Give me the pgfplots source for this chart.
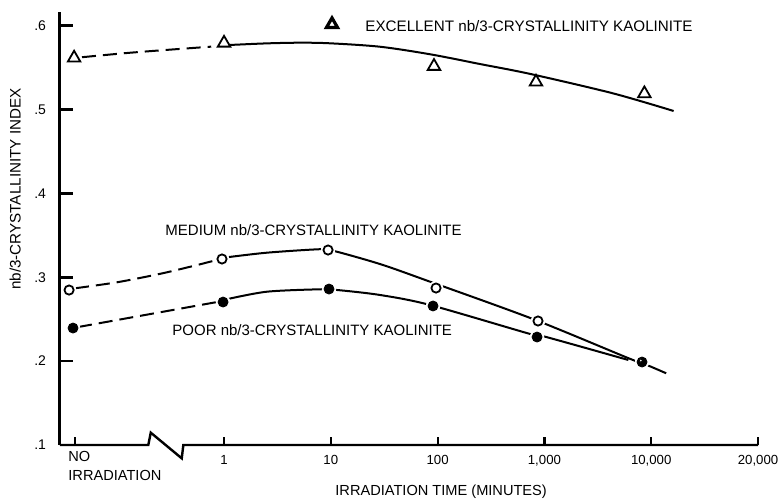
\documentclass[border=0pt]{standalone}
\usepackage{pgfplots}
\pgfplotsset{compat=1.18}
\usepackage{fontspec}
\setmainfont{Liberation Sans}
\begin{document}
\begin{tikzpicture}
\begin{axis}[
  at={(0pt,0pt)}, anchor=south west,
  scale only axis, width=349pt, height=216.5pt,
  xmin=-1.536, xmax=5, ymin=0.1, ymax=0.6161,
  axis lines=left, axis line style={-, draw=white, line width=0.2pt},
  clip=false,
  major tick length=0pt,
  xtick={-1.395,0,1,2,3,4,5},
  xticklabels={,1,10,100,{1,000},{10,000},{20,000}},
  ytick={0.1,0.2,0.3,0.4,0.5,0.6},
  yticklabels={.1,.2,.3,.4,.5,.6},
  x tick label style={font=\fontsize{6.6}{8}\selectfont, yshift=-1.5pt},
  y tick label style={font=\fontsize{7}{8}\selectfont, xshift=-3.5pt},
  /pgf/number format/assume math mode=true,
]
% axes lines
\draw[black, line width=1.5pt] (rel axis cs:0,0) -- (rel axis cs:0,1);
\draw[black, line width=1.2pt, line join=miter] (axis cs:-1.536,0.1) -- (axis cs:-0.709,0.1) -- (axis cs:-0.686,0.1147) -- (axis cs:-0.396,0.0841) -- (axis cs:-0.381,0.1) -- (axis cs:5,0.1);
% ticks as short segments
\addplot[black, line width=1.3pt, forget plot] coordinates {(-1.536,0.2) (-1.416,0.2)};
\addplot[black, line width=1.3pt, forget plot] coordinates {(-1.536,0.3) (-1.416,0.3)};
\addplot[black, line width=1.3pt, forget plot] coordinates {(-1.536,0.4) (-1.416,0.4)};
\addplot[black, line width=1.3pt, forget plot] coordinates {(-1.536,0.5) (-1.416,0.5)};
\addplot[black, line width=1.3pt, forget plot] coordinates {(-1.536,0.6) (-1.416,0.6)};
\addplot[black, line width=1.1pt, forget plot] coordinates {(-1.395,0.1) (-1.395,0.1095)};
\addplot[black, line width=1.1pt, forget plot] coordinates {(0,0.1) (0,0.1095)};
\addplot[black, line width=1.1pt, forget plot] coordinates {(1,0.1) (1,0.1095)};
\addplot[black, line width=1.1pt, forget plot] coordinates {(2,0.1) (2,0.1095)};
\addplot[black, line width=1.1pt, forget plot] coordinates {(3,0.1) (3,0.1095)};
\addplot[black, line width=1.1pt, forget plot] coordinates {(4,0.1) (4,0.1095)};
\addplot[black, line width=1.1pt, forget plot] coordinates {(5,0.1) (5,0.1095)};

% Excellent curve
\addplot[black, line width=1pt, dash pattern=on 7pt off 3.5pt, smooth] coordinates {
(-1.33,0.5622) (-0.93,0.5670) (-0.55,0.5708) (-0.12,0.5748) };
\addplot[black, line width=1pt, smooth] coordinates {
(0.056,0.5768) (0.40,0.5787) (0.71,0.5795) (0.99,0.5788) (1.46,0.5747) (1.93,0.5657) (2.40,0.5540) (2.87,0.5422) (3.64,0.5192) (4.21,0.4981) };

% Medium curve
\addplot[black, line width=1pt, dash pattern=on 7pt off 3.5pt, smooth] coordinates {
(-1.395,0.2868) (-1.0,0.2940) (-0.6,0.3040) (-0.3,0.3130) (-0.068,0.3205) };
\addplot[black, line width=1pt, smooth, tension=0.5] coordinates {
(0.025,0.3237) (0.40,0.3292) (0.87,0.3332) (1.0,0.3322) (1.46,0.3157) (1.93,0.2946) (2.90,0.2498) (3.79,0.2033) (3.96,0.1953) (4.14,0.1855) };

% Poor curve
\addplot[black, line width=1pt, dash pattern=on 7pt off 3.5pt] coordinates {
(-1.367,0.2406) (-0.066,0.2704) };
\addplot[black, line width=1pt, smooth, tension=0.5] coordinates {
(0.025,0.2737) (0.40,0.2827) (0.90,0.2856) (1.055,0.2848) (1.461,0.2788) (1.929,0.2669) (2.881,0.2318) (3.006,0.2291) (3.786,0.2013) };

% white halos
\addplot[only marks, mark=*, mark size=3.4pt, white, mark options={draw=none, fill=white}] coordinates {
(-1.451,0.2847) (-0.019,0.3217) (0.974,0.3324) (1.985,0.2871) (2.940,0.2478) (3.914,0.1989)
(-1.414,0.2394) (-0.009,0.2704) (0.983,0.2859) (1.957,0.2657) (2.931,0.2287) };

% Excellent marks
\addplot[only marks, mark=triangle, mark size=3.6pt, mark options={black, line width=0.9pt, fill=white}] coordinates {
(-1.404,0.5613) (0,0.5791) (1.966,0.5514) (2.921,0.5327) (3.936,0.5188) };
\addplot[only marks, mark=triangle, mark size=3.2pt, mark options={black, line width=1.6pt, fill=white}] coordinates {
(1.011,0.6014) };

% Medium marks
\addplot[only marks, mark=o, mark size=2.3pt, mark options={black, line width=0.9pt, fill=white}] coordinates {
(-1.451,0.2847) (-0.019,0.3217) (0.974,0.3324) (1.985,0.2871) (2.940,0.2478) };
% Poor marks
\addplot[only marks, mark=*, mark size=2.5pt, mark options={black, fill=black}] coordinates {
(-1.414,0.2394) (-0.009,0.2704) (0.983,0.2859) (1.957,0.2657) (2.931,0.2287) };
% merged point at 10,000
\addplot[only marks, mark=*, mark size=2.5pt, mark options={black, fill=black}] coordinates {
(3.914,0.1989) };
\addplot[only marks, mark=*, mark size=0.9pt, mark options={draw=none, fill=white}] coordinates {
(3.902,0.2007) };

% annotations
\node[anchor=base west, inner sep=0, font=\fontsize{7.6}{9}\selectfont] at (axis cs:1.320,0.5928) {EXCELLENT nb/3-CRYSTALLINITY KAOLINITE};
\node[anchor=base west, inner sep=0, font=\fontsize{7.5}{9}\selectfont] at (axis cs:-0.552,0.3503) {MEDIUM nb/3-CRYSTALLINITY KAOLINITE};
\node[anchor=base west, inner sep=0, font=\fontsize{7.5}{9}\selectfont] at (axis cs:-0.487,0.2311) {POOR nb/3-CRYSTALLINITY KAOLINITE};
\node[anchor=north west, inner sep=0, align=left, font=\fontsize{7.3}{9.5}\selectfont] at (axis cs:-1.461,0.0928) {NO\\IRRADIATION};
\node[anchor=base, inner sep=0, font=\fontsize{7.3}{9}\selectfont] at (rel axis cs:0.546,-0.1155) {IRRADIATION TIME (MINUTES)};
\node[anchor=base, rotate=90, inner sep=0, font=\fontsize{7.6}{9}\selectfont] at (rel axis cs:-0.0563,0.591) {nb/3-CRYSTALLINITY INDEX};
\end{axis}
\pgfresetboundingbox
\path (-30pt,-26.5pt) rectangle (359.5pt,222.5pt);
\end{tikzpicture}
\end{document}
